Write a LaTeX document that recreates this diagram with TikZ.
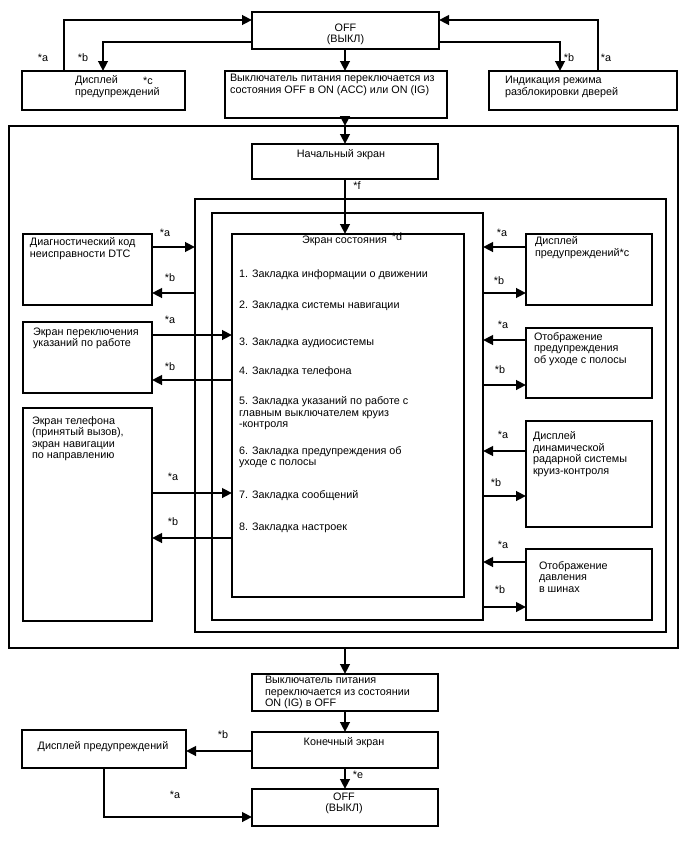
\documentclass[tikz,border=0pt]{standalone}
\usepackage{fontspec}
\setmainfont{Liberation Sans}
\usetikzlibrary{arrows.meta,calc}
\tikzset{
  box/.style={draw, line width=1.5pt, inner sep=0pt, outer sep=0pt, rectangle},
  arr/.style={line width=2.5pt, -{Triangle[length=10pt,width=9.5pt]}},
  txt/.style={inner sep=0pt, outer sep=0pt, align=left, anchor=north west,
    font=\fontsize{10.8}{11.5}\selectfont, execute at begin node={\rule{0pt}{9pt}}},
  ctxt/.style={txt, align=center, anchor=north},
  lab/.style={inner sep=0pt, outer sep=0pt, font=\fontsize{10.8}{11.5}\selectfont,
    text height=7pt, text depth=0pt, anchor=center},
}
\newcommand\mybox[5]{\node[box, minimum width={#4-#2}, minimum height={#5-#3}] (#1) at ({(#2+#4)/2},{(#3+#5)/2}) {};}
\begin{document}
\begin{tikzpicture}[x=1pt,y=-1pt]
\fill[white] (0,0) rectangle (688,852);
\useasboundingbox (0,0) rectangle (688,852);

% boxes and frames
\mybox{off1}{252}{12}{439}{49}
\mybox{ltop}{22}{71}{185}{110}
\mybox{mid}{225}{71}{447}{118}
\mybox{rtop}{489}{71}{677}{110}
\mybox{frameA}{9}{126}{678}{648}
\mybox{start}{252}{144}{438}{179}
\mybox{frameB}{195}{199}{666}{632}
\mybox{frameC}{212}{213}{483}{620}
\mybox{stat}{232}{234}{464}{597}
\mybox{L1}{23}{234}{152}{305}
\mybox{L2}{23}{322}{152}{393}
\mybox{L3}{23}{408}{152}{621}
\mybox{R1}{526}{234}{652}{305}
\mybox{R2}{526}{328}{652}{398}
\mybox{R3}{526}{421}{652}{527}
\mybox{R4}{526}{549}{652}{620}
\mybox{B1}{252}{674}{438}{711}
\mybox{B2}{252}{732}{438}{768}
\mybox{B3}{22}{730}{186}{768}
\mybox{B4}{252}{789}{438}{826}

% texts
\node[ctxt] (toff1) at (345.5,23.5) {OFF\\(ВЫКЛ)};
\node[txt] (tltop) at (75,75.5) {Дисплей\\предупреждений};
\node[txt] (tmid) at (230,74.5) {Выключатель питания переключается из\\состояния OFF в ON (ACC) или ON (IG)};
\node[txt] (trtop) at (505,76.5) {Индикация режима\\разблокировки дверей};
\node[ctxt] (tstart) at (341,148.5) {Начальный экран};
\node[txt] (tstat) at (302,234.5) {Экран состояния};
\node[txt] (ti1) at (239,268.5) {1. Закладка информации о движении};
\node[txt] (ti2) at (239,299.5) {2. Закладка системы навигации};
\node[txt] (ti3) at (239,336.5) {3. Закладка аудиосистемы};
\node[txt] (ti4) at (239,365.5) {4. Закладка телефона};
\node[txt] (ti5) at (239,396.5) {5. Закладка указаний по работе с\\главным выключателем круиз\\-контроля};
\node[txt] (ti6) at (239,446.5) {6. Закладка предупреждения об\\уходе с полосы};
\node[txt] (ti7) at (239,489.5) {7. Закладка сообщений};
\node[txt] (ti8) at (239,521.5) {8. Закладка настроек};
\node[txt] (tL1) at (30,237.5) {Диагностический код\\неисправности DTC};
\node[txt] (tL2) at (33,327.5) {Экран переключения\\указаний по работе};
\node[txt] (tL3) at (32,416.5) {Экран телефона\\(принятый вызов),\\экран навигации\\по направлению};
\node[txt] (tR1) at (535,236.5) {Дисплей\\предупреждений*c};
\node[txt] (tR2) at (534,332.5) {Отображение\\предупреждения\\об уходе с полосы};
\node[txt] (tR3) at (533,431.5) {Дисплей\\динамической\\радарной системы\\круиз-контроля};
\node[txt] (tR4) at (539,561.5) {Отображение\\давления\\в шинах};
\node[txt] (tB1) at (265,676.5) {Выключатель питания\\переключается из состоянии\\ON (IG) в OFF};
\node[ctxt] (tB2) at (344,736.5) {Конечный экран};
\node[ctxt] (tB3) at (103,740.5) {Дисплей предупреждений};
\node[ctxt] (tB4) at (344,792.5) {OFF\\(ВЫКЛ)};

% labels
\node[lab] (la1) at (43,58) {*a};
\node[lab] (lb1) at (83,58) {*b};
\node[lab] (lb2) at (569,58) {*b};
\node[lab] (la2) at (606,58) {*a};
\node[lab] (lc1) at (148,81) {*c};
\node[lab] (lf) at (357,186) {*f};
\node[lab] (ld) at (397,237) {*d};
\node[lab] (la3) at (165,233) {*a};
\node[lab] (lb3) at (170,278) {*b};
\node[lab] (la4) at (170,320) {*a};
\node[lab] (lb4) at (170,367) {*b};
\node[lab] (la5) at (173,477) {*a};
\node[lab] (lb5) at (173,522) {*b};
\node[lab] (la6) at (502,233) {*a};
\node[lab] (lb6) at (499,281) {*b};
\node[lab] (la7) at (503,325) {*a};
\node[lab] (lb7) at (500,370) {*b};
\node[lab] (la8) at (503,435) {*a};
\node[lab] (lb8) at (496,483) {*b};
\node[lab] (la9) at (503,545) {*a};
\node[lab] (lb9) at (500,590) {*b};
\node[lab] (lb10) at (223,735) {*b};
\node[lab] (la10) at (175,795) {*a};
\node[lab] (le) at (358,775) {*e};

% connectors top
\draw[arr] (off1.south -| 345,0) -- (345,0 |- mid.north);
\draw[arr] (345,0 |- mid.south) -- (345,0 |- frameA.north);
\draw[arr] (345,0 |- frameA.north) -- (345,0 |- start.north);
\draw[arr] (start.south -| 345,0) -- (345,0 |- stat.north);
\draw[arr] (64,0 |- ltop.north) |- (off1.west |- 0,20);
\draw[arr] (off1.west |- 0,42) -| (103,0 |- ltop.north);
\draw[arr] (off1.east |- 0,42) -| (560,0 |- rtop.north);
\draw[arr] (598,0 |- rtop.north) |- (off1.east |- 0,20);

% left side
\draw[arr] (L1.east |- 0,247) -- (frameB.west |- 0,247);
\draw[arr] (frameB.west |- 0,293) -- (L1.east |- 0,293);
\draw[arr] (L2.east |- 0,335) -- (stat.west |- 0,335);
\draw[arr] (stat.west |- 0,380) -- (L2.east |- 0,380);
\draw[arr] (L3.east |- 0,493) -- (stat.west |- 0,493);
\draw[arr] (stat.west |- 0,538) -- (L3.east |- 0,538);

% right side
\draw[arr] (R1.west |- 0,247) -- (frameC.east |- 0,247);
\draw[arr] (frameC.east |- 0,293) -- (R1.west |- 0,293);
\draw[arr] (R2.west |- 0,340) -- (frameC.east |- 0,340);
\draw[arr] (frameC.east |- 0,385) -- (R2.west |- 0,385);
\draw[arr] (R3.west |- 0,451) -- (frameC.east |- 0,451);
\draw[arr] (frameC.east |- 0,496) -- (R3.west |- 0,496);
\draw[arr] (R4.west |- 0,562) -- (frameC.east |- 0,562);
\draw[arr] (frameC.east |- 0,607) -- (R4.west |- 0,607);

% bottom
\draw[arr] (345,0 |- frameA.south) -- (345,0 |- B1.north);
\draw[arr] (B1.south -| 345,0) -- (345,0 |- B2.north);
\draw[arr] (B2.south -| 345,0) -- (345,0 |- B4.north);
\draw[arr] (B2.west |- 0,751) -- (B3.east |- 0,751);
\draw[arr] (B3.south -| 104,0) |- (B4.west |- 0,817);
\end{tikzpicture}
\end{document}
